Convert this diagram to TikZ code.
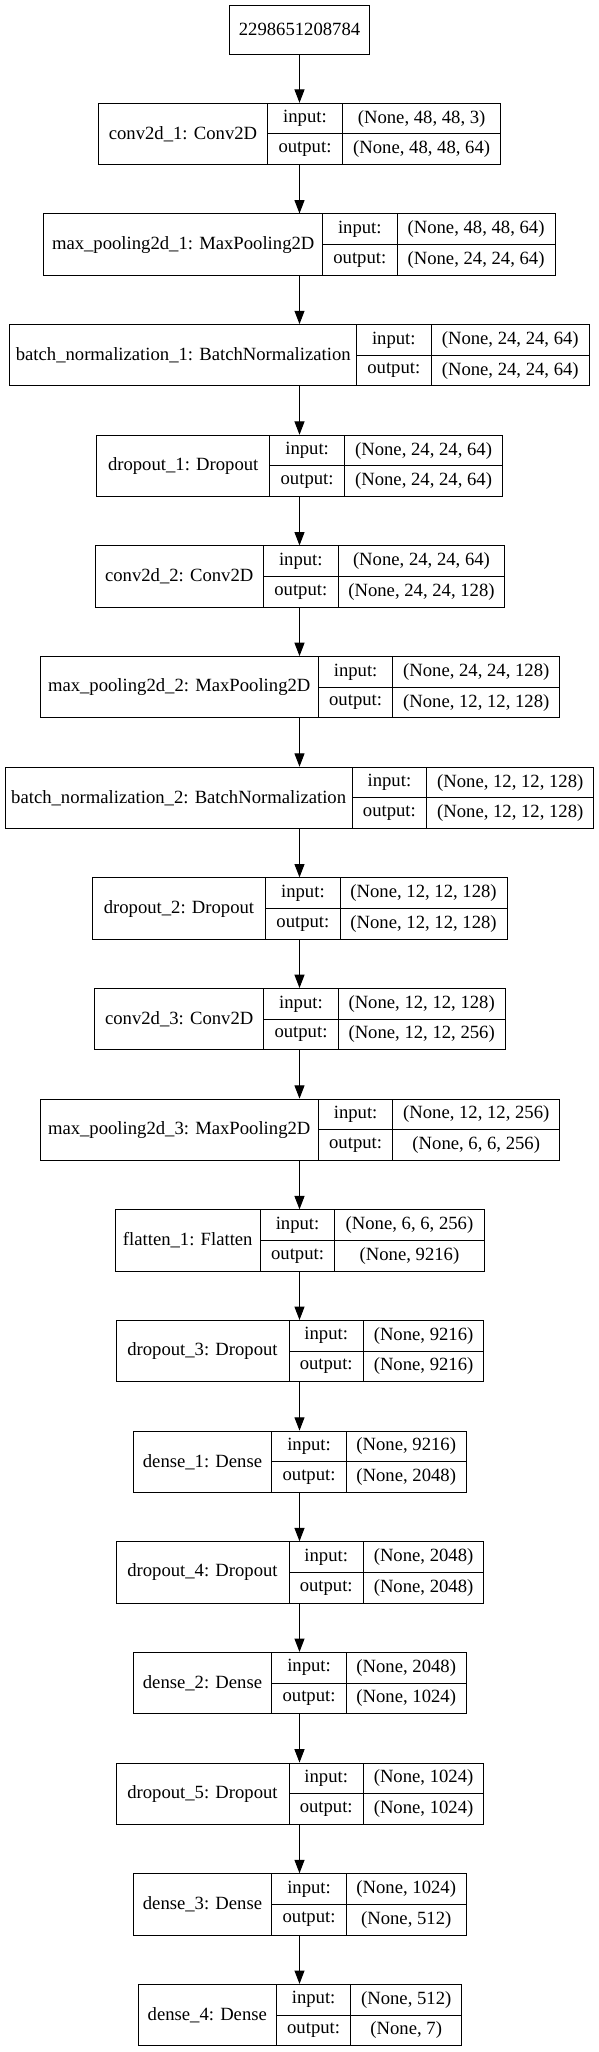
\documentclass[tikz,border=0pt]{standalone}
\usepackage{fontspec}
\setmainfont{Liberation Serif}
\usetikzlibrary{arrows.meta}
\newcommand\layerbox[9]{%
  \pgfmathsetmacro\lyB{#2+61.3}%
  \pgfmathsetmacro\lyM{#2+30.65}%
  \pgfmathsetmacro\lyU{#2+15.33}%
  \pgfmathsetmacro\lyD{#2+45.98}%
  \node[box, minimum width={(#6-#3)*0.75pt}, minimum height={61.3*0.75pt}] (#1) at ({(#3+#6)/2},\lyM) {};
  \draw[thin line] (#4,#2) -- (#4,\lyB);
  \draw[thin line] (#5,#2) -- (#5,\lyB);
  \draw[thin line] (#4,\lyM) -- (#6,\lyM);
  \node[txt] (#1-name) at ({(#3+#4)/2},\lyM) {#7};
  \node[txt] (#1-inl) at ({(#4+#5)/2},\lyU) {input:};
  \node[txt] (#1-outl) at ({(#4+#5)/2},\lyD) {output:};
  \node[txt] (#1-in) at ({(#5+#6)/2},\lyU) {#8};
  \node[txt] (#1-out) at ({(#5+#6)/2},\lyD) {#9};
}
\begin{document}
\begin{tikzpicture}[x=0.75pt,y=-0.75pt,
  box/.style={draw=black, line width=0.75pt, inner sep=0pt},
  thin line/.style={draw=black, line width=0.75pt},
  txt/.style={inner sep=0pt, font=\fontsize{14pt}{16pt}\selectfont},
  arr/.style={draw=black, line width=0.75pt, -{Triangle[length=10pt,width=7.5pt]}}]
\useasboundingbox[fill=white] (0,0) rectangle (599,2052);
\node[box, minimum width={139.4*0.75pt}, minimum height={48.3*0.75pt}, font=\fontsize{14pt}{16pt}\selectfont] (top) at (299.5,29.85) {2298651208784};
\layerbox{l0}{103.3}{98.4}{267.6}{342.4}{500.9}{conv2d\_1: Conv2D}{(None, 48, 48, 3)}{(None, 48, 48, 64)}
\layerbox{l1}{213.95}{43.8}{322.6}{397.0}{555.1}{max\_pooling2d\_1: MaxPooling2D}{(None, 48, 48, 64)}{(None, 24, 24, 64)}
\layerbox{l2}{324.6}{9.9}{356.6}{431.0}{589.5}{batch\_normalization\_1: BatchNormalization}{(None, 24, 24, 64)}{(None, 24, 24, 64)}
\layerbox{l3}{435.25}{96.5}{269.9}{344.3}{502.8}{dropout\_1: Dropout}{(None, 24, 24, 64)}{(None, 24, 24, 64)}
\layerbox{l4}{545.9}{95.0}{263.4}{338.2}{504.7}{conv2d\_2: Conv2D}{(None, 24, 24, 64)}{(None, 24, 24, 128)}
\layerbox{l5}{656.55}{40.0}{318.4}{392.8}{559.7}{max\_pooling2d\_2: MaxPooling2D}{(None, 24, 24, 128)}{(None, 12, 12, 128)}
\layerbox{l6}{767.2}{5.3}{352.0}{426.8}{593.7}{batch\_normalization\_2: BatchNormalization}{(None, 12, 12, 128)}{(None, 12, 12, 128)}
\layerbox{l7}{877.85}{92.3}{265.7}{340.1}{507.0}{dropout\_2: Dropout}{(None, 12, 12, 128)}{(None, 12, 12, 128)}
\layerbox{l8}{988.5}{94.6}{263.8}{338.2}{505.1}{conv2d\_3: Conv2D}{(None, 12, 12, 128)}{(None, 12, 12, 256)}
\layerbox{l9}{1099.15}{40.0}{318.4}{392.8}{559.7}{max\_pooling2d\_3: MaxPooling2D}{(None, 12, 12, 256)}{(None, 6, 6, 256)}
\layerbox{l10}{1209.8}{115.2}{260.3}{334.8}{484.1}{flatten\_1: Flatten}{(None, 6, 6, 256)}{(None, 9216)}
\layerbox{l11}{1320.45}{116.0}{289.0}{363.4}{483.7}{dropout\_3: Dropout}{(None, 9216)}{(None, 9216)}
\layerbox{l12}{1431.1}{133.2}{271.8}{346.3}{466.1}{dense\_1: Dense}{(None, 9216)}{(None, 2048)}
\layerbox{l13}{1541.75}{116.0}{289.0}{363.4}{483.7}{dropout\_4: Dropout}{(None, 2048)}{(None, 2048)}
\layerbox{l14}{1652.4}{133.2}{271.8}{346.3}{466.1}{dense\_2: Dense}{(None, 2048)}{(None, 1024)}
\layerbox{l15}{1763.05}{116.0}{289.0}{363.4}{483.7}{dropout\_5: Dropout}{(None, 1024)}{(None, 1024)}
\layerbox{l16}{1873.7}{133.2}{271.8}{346.3}{466.1}{dense\_3: Dense}{(None, 1024)}{(None, 512)}
\layerbox{l17}{1984.35}{138.2}{276.4}{350.8}{461.6}{dense\_4: Dense}{(None, 512)}{(None, 7)}
\draw[arr] (top.south) -- (l0.north -| top.south);
\foreach \a/\b in {l0/l1,l1/l2,l2/l3,l3/l4,l4/l5,l5/l6,l6/l7,l7/l8,l8/l9,l9/l10,l10/l11,l11/l12,l12/l13,l13/l14,l14/l15,l15/l16,l16/l17}
  \draw[arr] (\a.south -| top.south) -- (\b.north -| top.south);
\end{tikzpicture}
\end{document}
